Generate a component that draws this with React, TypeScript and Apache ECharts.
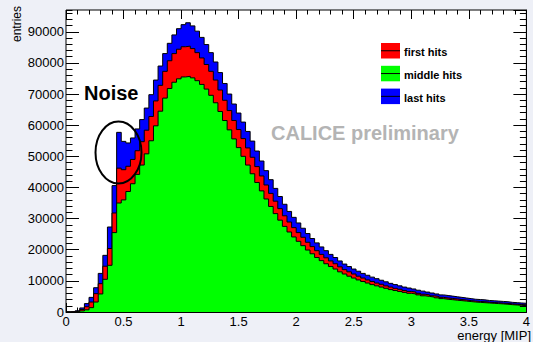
import React, { useEffect, useRef } from "react";
import * as echarts from "echarts";

// ---- data (stacked histograms, 100 bins of width 0.04 MIP from 0 to 4) ----
const BIN_WIDTH = 0.04;
const ENERGY_MIN = 0;
const ENERGY_MAX = 4;
const ENTRIES_MAX = 97000;
const X_TICK_STEP = 0.5;
const Y_TICK_STEP = 10000;
const Y_MINOR_STEP = 2000;

const middleHits = [
  0, 20, 100, 350, 700, 1400, 3200, 5800, 10500, 15000,
  25500, 35000, 36000, 38700, 41200, 44200, 47200, 50800, 55000, 59800,
  64500, 68700, 71800, 73800, 74900, 75500, 75700, 75200, 74300, 73100,
  71600, 69600, 67200, 64400, 61500, 58500, 55600, 52800, 50000, 47200,
  44400, 41600, 38900, 36300, 33900, 31600, 29500, 27500, 25700, 24100,
  22700, 21300, 19900, 18700, 17500, 16500, 15500, 14600, 13800, 12900,
  12200, 11500, 10900, 10300, 9800, 9300, 8800, 8400, 8000, 7600,
  7200, 6900, 6600, 6300, 6000, 5800, 5500, 5200, 5000, 4800,
  4550, 4300, 4100, 3950, 3800, 3650, 3500, 3350, 3200, 3100,
  3000, 2900, 2800, 2700, 2600, 2500, 2350, 2250, 2150, 2050,
];

const firstHits = [
  0, 40, 150, 450, 1000, 1800, 2700, 3300, 4200, 5400,
  6300, 11200, 9700, 8100, 7800, 7600, 7500, 7600, 7800, 8000,
  8300, 8600, 8900, 9200, 9500, 9700, 9700, 9400, 9000, 8500,
  7900, 7700, 7300, 6900, 6500, 6200, 5900, 5800, 5700, 5500,
  5300, 5100, 4800, 4500, 4200, 4000, 3700, 3400, 3200, 3000,
  2800, 2700, 2500, 2300, 2200, 2000, 1900, 1800, 1700, 1600,
  1400, 1400, 1300, 1200, 1100, 1000, 1000, 900, 900, 800,
  800, 700, 700, 600, 600, 600, 500, 500, 500, 400,
  450, 400, 400, 400, 400, 350, 350, 300, 300, 300,
  300, 250, 250, 250, 250, 250, 250, 250, 250, 250,
];

const lastHits = [
  0, 40, 150, 500, 1000, 1500, 1900, 3300, 3500, 6900,
  8800, 11500, 9100, 7500, 6900, 7000, 7100, 7100, 7000, 6700,
  6200, 5700, 5600, 6000, 6600, 7100, 7500, 7300, 6900, 6600,
  6400, 6000, 5800, 5600, 5400, 5300, 5300, 5300, 5300, 5300,
  5200, 5000, 4800, 4600, 4400, 4100, 3900, 3700, 3400, 3300,
  3100, 2900, 2800, 2600, 2500, 2400, 2300, 2100, 2000, 1900,
  1800, 1700, 1600, 1600, 1500, 1500, 1400, 1400, 1300, 1300,
  1200, 1200, 1100, 1100, 1100, 1000, 1000, 1000, 900, 900,
  800, 800, 800, 750, 700, 700, 650, 650, 600, 600,
  600, 550, 550, 550, 550, 550, 500, 500, 500, 500,
];

const legendItems = [
  { name: "first hits", color: "#ff0000" },
  { name: "middle hits", color: "#00ff00" },
  { name: "last hits", color: "#0000ff" },
];

const FONT = "'Liberation Sans', Arial, Helvetica, sans-serif";

function stackOf(...arrays: number[][]): number[] {
  return arrays[0].map((_, i) => arrays.reduce((s, a) => s + a[i], 0));
}

function stepPoints(values: number[]): number[][] {
  const pts = values.map((v, i) => [Math.round(i * BIN_WIDTH * 1000) / 1000, v]);
  pts.push([Math.round(values.length * BIN_WIDTH * 1000) / 1000, values[values.length - 1]]);
  return pts;
}

function histSeries(name: string, values: number[], color: string, z: number) {
  return {
    type: "line",
    name,
    data: stepPoints(values),
    step: "end",
    symbol: "none",
    showSymbol: false,
    silent: true,
    z,
    xAxisIndex: 0,
    yAxisIndex: 0,
    lineStyle: { color: "#000", width: 1 },
    areaStyle: { color, opacity: 1, origin: "start" },
  };
}

const tickLine = { color: "#000", width: 1 };
const noLine = { show: false, onZero: false };
const frameLine = { show: true, onZero: false, lineStyle: tickLine };

export default function App() {
  const ref = useRef<HTMLDivElement>(null);

  useEffect(() => {
    if (!ref.current) return;
    const chart = echarts.init(ref.current, null, { renderer: "svg" });

    const redStack = stackOf(middleHits, firstHits);
    const blueStack = stackOf(middleHits, firstHits, lastHits);

    const xBase = {
      type: "value",
      min: ENERGY_MIN,
      max: ENERGY_MAX,
      interval: X_TICK_STEP,
      splitLine: { show: false },
      axisLine: noLine,
    };
    const yBase = {
      type: "value",
      min: 0,
      max: ENTRIES_MAX,
      splitLine: { show: false },
      axisLine: noLine,
    };

    const legendGraphics: any[] = [];
    legendItems.forEach((it, i) => {
      const top = 43 + i * 22.8;
      legendGraphics.push({
        type: "rect",
        shape: { x: 381, y: top, width: 19, height: 15.5 },
        style: { fill: it.color },
        z: 100,
      });
      legendGraphics.push({
        type: "line",
        shape: { x1: 381, y1: top + 7.75, x2: 400, y2: top + 7.75 },
        style: { stroke: "#000", lineWidth: 1 },
        z: 101,
      });
      legendGraphics.push({
        type: "text",
        x: 404,
        y: top + 9,
        style: {
          text: it.name,
          fill: "#000",
          font: `bold 11px ${FONT}`,
          align: "left",
          verticalAlign: "middle",
        },
        z: 101,
      });
    });

    const option: any = {
      animation: false,
      backgroundColor: "#eef0f7",
      grid: {
        left: 66,
        right: 3,
        top: 10,
        bottom: 30,
        show: true,
        backgroundColor: "#ffffff",
        borderColor: "#000",
        borderWidth: 1,
        z: 0,
      },
      xAxis: [
        {
          ...xBase,
          position: "bottom",
          z: 1,
          axisTick: { show: true, inside: true, length: 9, lineStyle: tickLine },
          minorTick: { show: true, splitNumber: 5, length: 4.5, lineStyle: tickLine },
          axisLabel: {
            color: "#000",
            fontSize: 13,
            fontFamily: FONT,
            margin: 3,
            formatter: (v: number) => String(v),
          },
        },
        {
          ...xBase,
          position: "top",
          z: 1,
          axisTick: { show: true, inside: true, length: 9, lineStyle: tickLine },
          minorTick: { show: true, splitNumber: 5, length: 4.5, lineStyle: tickLine },
          axisLabel: { show: false },
        },
        {
          ...xBase,
          position: "bottom",
          z: 30,
          axisLine: frameLine,
          axisTick: { show: false },
          axisLabel: { show: false },
        },
      ],
      yAxis: [
        {
          ...yBase,
          position: "left",
          z: 1,
          interval: Y_TICK_STEP,
          axisTick: { show: true, inside: true, length: 13, lineStyle: tickLine },
          axisLabel: {
            color: "#000",
            fontSize: 13,
            fontFamily: FONT,
            margin: 2,
            showMaxLabel: false,
            formatter: (v: number) => String(v),
          },
        },
        {
          ...yBase,
          position: "left",
          z: 1,
          interval: Y_MINOR_STEP,
          axisTick: { show: true, inside: true, length: 6.5, lineStyle: tickLine },
          axisLabel: { show: false },
        },
        {
          ...yBase,
          position: "right",
          z: 30,
          interval: Y_TICK_STEP,
          axisLine: frameLine,
          axisTick: { show: true, inside: true, length: 13, lineStyle: tickLine },
          axisLabel: { show: false },
        },
        {
          ...yBase,
          position: "right",
          z: 30,
          interval: Y_MINOR_STEP,
          axisTick: { show: true, inside: true, length: 6.5, lineStyle: tickLine },
          axisLabel: { show: false },
        },
      ],
      series: [
        histSeries("last hits", blueStack, "#0000ff", 10),
        histSeries("first hits", redStack, "#ff0000", 11),
        histSeries("middle hits", middleHits, "#00ff00", 12),
      ],
      graphic: [
        {
          type: "ellipse",
          shape: { cx: 118.5, cy: 152.5, rx: 23, ry: 31 },
          style: { fill: "none", stroke: "#000", lineWidth: 2 },
          z: 100,
        },
        {
          type: "text",
          x: 84,
          y: 93,
          style: {
            text: "Noise",
            fill: "#000",
            font: `bold 20px ${FONT}`,
            align: "left",
            verticalAlign: "middle",
          },
          z: 100,
        },
        {
          type: "text",
          x: 271,
          y: 133,
          style: {
            text: "CALICE preliminary",
            fill: "#b4b4b4",
            font: `bold 20px ${FONT}`,
            align: "left",
            verticalAlign: "middle",
          },
          z: 100,
        },
        {
          type: "text",
          x: 16.5,
          y: 6,
          rotation: Math.PI / 2,
          style: {
            text: "entries",
            fill: "#000",
            font: `12px ${FONT}`,
            align: "right",
            verticalAlign: "middle",
          },
          z: 100,
        },
        {
          type: "text",
          x: 531,
          y: 335,
          style: {
            text: "energy [MIP]",
            fill: "#000",
            font: `13px ${FONT}`,
            align: "right",
            verticalAlign: "middle",
          },
          z: 100,
        },
        ...legendGraphics,
      ],
    };

    chart.setOption(option);
    return () => chart.dispose();
  }, []);

  return (
    <div
      ref={ref}
      style={{ position: "fixed", left: 0, top: 0, width: 533, height: 342 }}
    />
  );
}
